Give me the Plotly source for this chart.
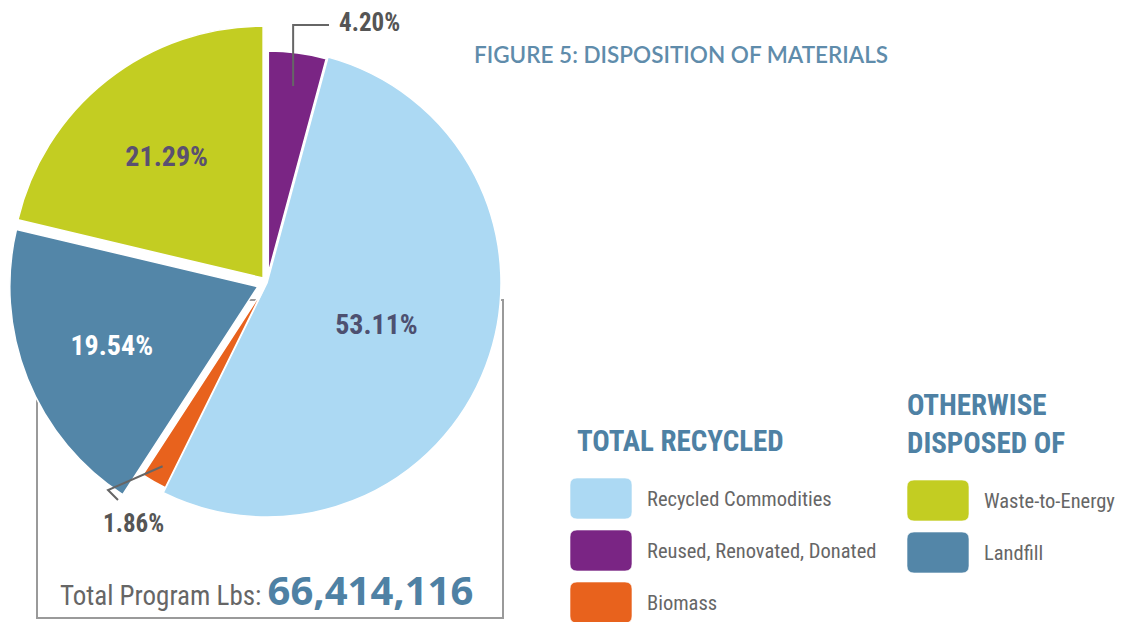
import math
import plotly.graph_objects as go

# ---------------- data ----------------
categories = ["Reused, Renovated, Donated", "Recycled Commodities", "Biomass",
              "Landfill", "Waste-to-Energy"]
shares = [4.20, 53.11, 1.86, 19.54, 21.29]
group_recycled = ["Recycled Commodities", "Reused, Renovated, Donated", "Biomass"]
group_disposed = ["Waste-to-Energy", "Landfill"]
group_titles = ["TOTAL RECYCLED", "OTHERWISE<br>DISPOSED OF"]
total_label = "Total Program Lbs:"
total_lbs = 66414116
chart_title = "FIGURE 5: DISPOSITION OF MATERIALS"

# ---------------- style ----------------
OFF = 8                      # default page body margin
FW, FH = 1123 - OFF, 622 - OFF
CX, CY = 267, 283            # pie centre in page pixels


def X(px):
    return (px - OFF) / FW


def Y(py):
    return 1 - (py - OFF) / FH


colors = {
    "Reused, Renovated, Donated": "#7a2584",
    "Recycled Commodities": "#acd9f3",
    "Biomass": "#e8621d",
    "Landfill": "#5386a8",
    "Waste-to-Energy": "#c3cd22",
}
radius = {"Reused, Renovated, Donated": 222, "Recycled Commodities": 234, "Biomass": 222,
          "Landfill": 248, "Waste-to-Energy": 252}
pulls = {"Reused, Renovated, Donated": 0.045, "Recycled Commodities": 0.0, "Biomass": 0.03,
         "Landfill": 0.04, "Waste-to-Energy": 0.025}
textpos = {"Reused, Renovated, Donated": "none", "Recycled Commodities": "inside",
           "Biomass": "none", "Landfill": "inside", "Waste-to-Energy": "inside"}
textcol = {"Reused, Renovated, Donated": "#555555", "Recycled Commodities": "#4d5070",
           "Biomass": "#555555", "Landfill": "#ffffff", "Waste-to-Energy": "#5a5070"}
COND = "Roboto Condensed, Liberation Sans Narrow, Roboto, sans-serif"
BLUE = "#4e81a4"
GRAY = "#666666"
TRANSP = "rgba(0,0,0,0)"

fig = go.Figure()

# frame box below the pie
fig.add_shape(type="rect", xref="paper", yref="paper",
              x0=X(37), x1=X(503), y0=Y(618), y1=Y(300),
              line=dict(color="#9a9a9a", width=2), layer="below")

draw_order = ["Waste-to-Energy", "Landfill", "Recycled Commodities", "Biomass",
              "Reused, Renovated, Donated"]
for name in draw_order:
    r = radius[name]
    p = pulls[name]
    h = r * (1 + p)
    fig.add_trace(go.Pie(
        values=shares, labels=categories, sort=False, direction="clockwise", rotation=0,
        domain=dict(x=[X(CX - h), X(CX + h)], y=[Y(CY + h), Y(CY - h)]),
        marker=dict(colors=[colors[c] if c == name else TRANSP for c in categories],
                    line=dict(color=["white" if c == name else TRANSP for c in categories],
                              width=[1.5 if c == name else 0 for c in categories])),
        pull=[p if c == name else 0 for c in categories],
        text=[f"{v:.2f}%" if c == name else "" for c, v in zip(categories, shares)],
        textinfo="text",
        textposition=[textpos[c] if c == name else "none" for c in categories],
        insidetextorientation="horizontal",
        textfont=dict(family=COND, size=28, color=textcol[name], weight="bold"),
        hoverinfo="skip", showlegend=False,
    ))

annotations = []
shapes = []


def slice_point(name, frac):
    """point inside a slice along its bisector, at frac of its radius (page px)"""
    i = categories.index(name)
    before = sum(shares[:i])
    ang = math.radians((before + shares[i] / 2) / sum(shares) * 360)
    r = radius[name]
    d = pulls[name] * r + frac * r
    return CX + math.sin(ang) * d, CY - math.cos(ang) * d


# outside labels with elbow leader lines
small_labels = {
    "Reused, Renovated, Donated": dict(frac=0.85, lx=369, ly=22),
    "Biomass": dict(frac=0.92, lx=133, ly=523),
}
for name, s in small_labels.items():
    v = shares[categories.index(name)]
    sx, sy = slice_point(name, s["frac"])
    if name == "Reused, Renovated, Donated":
        pts = [(sx, sy), (sx, s["ly"] + 3), (s["lx"] - 40, s["ly"] + 3)]
    else:
        pts = [(sx, sy), (s["lx"] - 25, s["ly"] - 33), (s["lx"] - 15, s["ly"] - 23)]
    path = "M" + " L".join(f"{X(a):.5f},{Y(b):.5f}" for a, b in pts)
    shapes.append(dict(type="path", xref="paper", yref="paper", path=path,
                       line=dict(color="#666666", width=2)))
    annotations.append(dict(text=f"<b>{v:.2f}%</b>", x=X(s["lx"]), y=Y(s["ly"]), xanchor="center",
                            yanchor="middle", showarrow=False,
                            font=dict(family=COND, size=25, color="#555555")))

# title
annotations.append(dict(text=chart_title, x=X(472), y=Y(54), xanchor="left", yanchor="middle",
                        showarrow=False, font=dict(family="Lato, Open Sans, sans-serif", size=22.5,
                                                   color="#5f8cab", weight=600)))
# total
annotations.append(dict(
    text=(f"<span style='font-family:{COND};font-size:27px;color:{GRAY}'>{total_label} </span>"
          f"<span style='font-family:Open Sans, Lato, sans-serif;font-size:40px;font-weight:bold;color:{BLUE}'>{total_lbs:,}</span>"),
    x=X(58), y=Y(589), xanchor="left", yanchor="middle", showarrow=False))

# legend headers
annotations.append(dict(text=f"<b>{group_titles[0]}</b>", x=X(575), y=Y(441), xanchor="left",
                        yanchor="middle", showarrow=False,
                        font=dict(family=COND, size=29, color=BLUE)))
annotations.append(dict(text=f"<b>{group_titles[1]}</b>", x=X(905), y=Y(424), xanchor="left",
                        yanchor="middle", showarrow=False, align="left",
                        font=dict(family=COND, size=29, color=BLUE)))


def rrect(x0, y0, x1, y1, rad=7):
    def P(x, y):
        return f"{X(x):.5f},{Y(y):.5f}"
    return (f"M{P(x0 + rad, y0)} L{P(x1 - rad, y0)} Q{P(x1, y0)} {P(x1, y0 + rad)} "
            f"L{P(x1, y1 - rad)} Q{P(x1, y1)} {P(x1 - rad, y1)} L{P(x0 + rad, y1)} "
            f"Q{P(x0, y1)} {P(x0, y1 - rad)} L{P(x0, y0 + rad)} Q{P(x0, y0)} {P(x0 + rad, y0)} Z")


for col_x, group, y_start in [(570, group_recycled, 478), (907, group_disposed, 480)]:
    for k, name in enumerate(group):
        y0 = y_start + 52 * k
        shapes.append(dict(type="path", xref="paper", yref="paper", path=rrect(col_x, y0, col_x + 62, y0 + 41),
                           fillcolor=colors[name], line=dict(color="rgba(255,255,255,0.6)", width=1)))
        annotations.append(dict(text=name, x=X(col_x + 75), y=Y(y0 + 21), xanchor="left",
                                yanchor="middle", showarrow=False,
                                font=dict(family=COND, size=20.5, color=GRAY)))

for s in shapes:
    fig.add_shape(**s)

fig.update_layout(
    width=FW, height=FH, margin=dict(l=0, r=0, t=0, b=0),
    paper_bgcolor="white", plot_bgcolor="white",
    annotations=annotations, showlegend=False,
)

fig.write_html("out.html")
